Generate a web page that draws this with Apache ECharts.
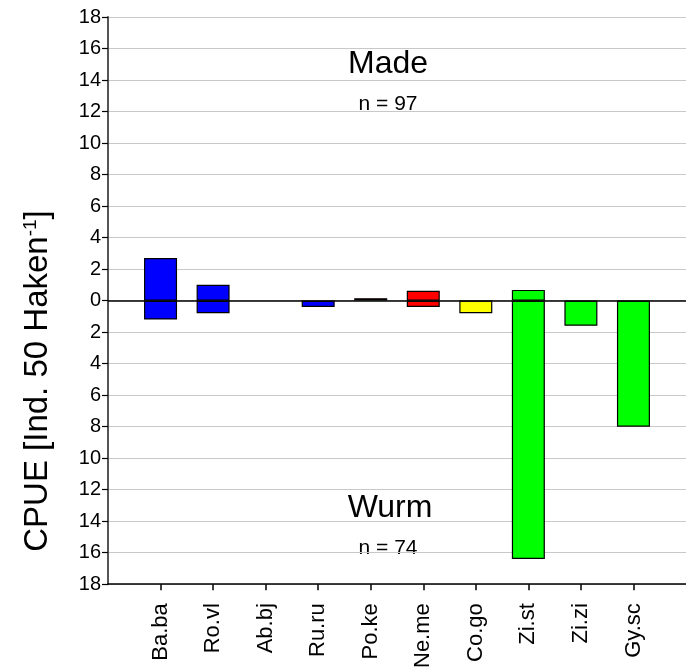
<!DOCTYPE html>
<html>
<head>
<meta charset="utf-8">
<script src="https://cdn.jsdelivr.net/npm/echarts@6/dist/echarts.min.js"></script>
<style>html,body{margin:0;padding:0;background:#fff;}#c{width:686px;height:671px;}</style>
</head>
<body>
<div id="c"></div>
<script>
// categories (empty first/last entries are the axis margins)
const categories = ['', 'Ba.ba', 'Ro.vl', 'Ab.bj', 'Ru.ru', 'Po.ke', 'Ne.me', 'Co.go', 'Zi.st', 'Zi.zi', 'Gy.sc', ''];
// CPUE Made (upper, positive)
const made = [null, 2.7, 1.0, 0, 0, 0.15, 0.62, 0, 0.68, 0, 0, null];
// CPUE Wurm (lower, drawn downwards)
const wurm = [null, 1.2, 0.8, 0, 0.4, 0, 0.4, 0.8, 16.4, 1.6, 8.0, null];
// bar colours by species group
const barColors = ['', '#0000ff', '#0000ff', '#0000ff', '#0000ff', '#ff0000', '#ff0000', '#ffff00', '#00ff00', '#00ff00', '#00ff00', ''];
// y tick range
const yMin = -18, yMax = 18, yStep = 2;

const FONT = 'Arial, "Liberation Sans", sans-serif';

function toData(arr, sign) {
  return arr.map((v, i) => {
    if (v === null || v === 0) return null;
    return { value: sign * v, itemStyle: { color: barColors[i] } };
  });
}

const chart = echarts.init(document.getElementById('c'), null, { renderer: 'canvas' });
chart.setOption({
  animation: false,
  backgroundColor: '#fff',
  grid: { left: 108, right: -10, top: 17, bottom: 83, containLabel: false },
  xAxis: {
    type: 'category',
    data: categories,
    boundaryGap: false,
    axisLine: { show: true, onZero: false, lineStyle: { color: '#000', width: 1.5 } },
    axisTick: { show: true, length: 6, interval: (i, v) => v !== '', lineStyle: { color: '#000', width: 1.5 } },
    axisLabel: { rotate: 90, margin: 19, interval: 0, color: '#000', fontSize: 22, fontFamily: FONT },
    splitLine: { show: false }
  },
  yAxis: {
    type: 'value',
    min: yMin, max: yMax, interval: yStep,
    axisLine: { show: true, lineStyle: { color: '#555', width: 2 } },
    axisTick: { show: true, length: 6, lineStyle: { color: '#000', width: 1.2 } },
    axisLabel: { color: '#000', fontSize: 20, fontFamily: FONT, margin: 7, formatter: v => String(Math.abs(v)) },
    splitLine: { show: true, lineStyle: { color: '#c8c8c8', width: 1.2 } }
  },
  series: [
    {
      name: 'Made', type: 'bar', stack: 'cpue', barWidth: 33,
      data: toData(made, 1),
      itemStyle: { borderColor: '#000', borderWidth: 1.2 },
      markLine: {
        silent: true, symbol: 'none', label: { show: false },
        lineStyle: { color: '#000', width: 1.5, type: 'solid' },
        data: [{ yAxis: 0 }]
      }
    },
    {
      name: 'Wurm', type: 'bar', stack: 'cpue', barWidth: 33,
      data: toData(wurm, -1),
      itemStyle: { borderColor: '#000', borderWidth: 1.2 }
    }
  ],
  graphic: [
    { type: 'text', x: 388, y: 64, style: { text: 'Made', font: '32px ' + FONT, fill: '#000', textAlign: 'center', textVerticalAlign: 'middle' } },
    { type: 'text', x: 388, y: 104, style: { text: 'n = 97', font: '21px ' + FONT, fill: '#000', textAlign: 'center', textVerticalAlign: 'middle' } },
    { type: 'text', x: 390, y: 508, style: { text: 'Wurm', font: '32px ' + FONT, fill: '#000', textAlign: 'center', textVerticalAlign: 'middle' } },
    { type: 'text', x: 388, y: 548, style: { text: 'n = 74', font: '21px ' + FONT, fill: '#000', textAlign: 'center', textVerticalAlign: 'middle' } },
    {
      type: 'text', x: 38, y: 381, rotation: Math.PI / 2,
      style: {
        text: '{a|CPUE [Ind. 50 Haken}{s|-1}{a|]}',
        rich: {
          a: { fontSize: 33, fontFamily: FONT, fill: '#000' },
          s: { fontSize: 19, fontFamily: FONT, fill: '#000', verticalAlign: 'top' }
        },
        textAlign: 'center', textVerticalAlign: 'middle'
      }
    }
  ]
});
</script>
</body>
</html>
